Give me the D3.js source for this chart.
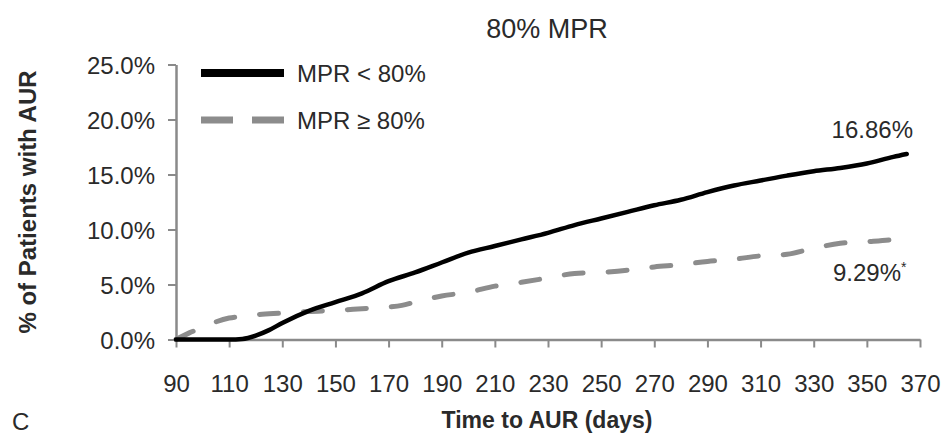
<!DOCTYPE html>
<html>
<head>
<meta charset="utf-8">
<script src="https://cdn.jsdelivr.net/npm/d3@7"></script>
<style>
  html, body { margin: 0; padding: 0; background: #fff; }
  svg { display: block; font-family: "Liberation Sans", Arial, sans-serif; }
</style>
</head>
<body>
<svg id="chart" width="942" height="438"></svg>
<script>
// Cumulative incidence of AUR by days since start, for two adherence groups
const days = [90, 100, 110, 115, 120, 125, 130, 140, 150, 160, 170, 180, 190, 200, 210, 220,
              230, 240, 250, 260, 270, 280, 290, 300, 310, 320, 330, 340, 350, 360, 365];
const mprBelow80 = [0, 0, 0, 0.05, 0.35, 0.85, 1.5, 2.6, 3.4, 4.2, 5.3, 6.1, 7.0, 7.9, 8.5, 9.1,
                    9.7, 10.4, 11.0, 11.6, 12.2, 12.7, 13.4, 14.0, 14.45, 14.9, 15.3, 15.6, 16.0, 16.6, 16.86];
const daysHigh = [90, 95, 100, 105, 110, 115, 120, 130, 140, 150, 160, 170, 175, 180, 190, 200, 210,
                  220, 230, 240, 250, 260, 270, 280, 290, 300, 310, 320, 330, 340, 350, 360, 365];
const mprAtLeast80 = [0, 0.6, 1.1, 1.6, 1.95, 2.1, 2.25, 2.4, 2.55, 2.65, 2.8, 2.95, 3.1, 3.4, 3.95, 4.3, 4.85,
                      5.2, 5.6, 6.0, 6.1, 6.3, 6.6, 6.8, 7.1, 7.3, 7.6, 7.75, 8.3, 8.75, 8.9, 9.1, 9.29];
const xTicks = [90, 110, 130, 150, 170, 190, 210, 230, 250, 270, 290, 310, 330, 350, 370];
const yTicks = [0, 5, 10, 15, 20, 25];
const seriesNames = ["MPR < 80%", "MPR \u2265 80%"];
const endLabels = ["16.86%", "9.29%"];

const svg = d3.select("#chart");
const textColor = "#2a2a2a";
const axisColor = "#8a8a8a";

const x = d3.scaleLinear().domain([90, 370]).range([176, 920]);
const y = d3.scaleLinear().domain([0, 25]).range([339.5, 64.5]);

// Title
svg.append("text")
  .attr("x", 547).attr("y", 38)
  .attr("text-anchor", "middle")
  .attr("font-size", 27).attr("fill", textColor)
  .text("80% MPR");

// Axes
const xAxis = svg.append("g")
  .attr("transform", `translate(0,${y(0)})`)
  .call(d3.axisBottom(x).tickValues(xTicks).tickFormat(d3.format("d"))
        .tickSize(8).tickSizeOuter(0).tickPadding(27));
const yAxis = svg.append("g")
  .attr("transform", `translate(${x(90)},0)`)
  .call(d3.axisLeft(y).tickValues(yTicks).tickFormat(d => d.toFixed(1) + "%")
        .tickSize(8).tickSizeOuter(0).tickPadding(13));

[xAxis, yAxis].forEach(g => {
  g.select(".domain").attr("stroke", axisColor).attr("stroke-width", 2.5);
  g.selectAll(".tick line").attr("stroke", axisColor).attr("stroke-width", 2);
  g.selectAll(".tick text").attr("fill", textColor).attr("font-size", 24)
    .attr("font-family", "\"Liberation Sans\", Arial, sans-serif");
});
yAxis.selectAll(".tick text").attr("dy", "0.36em");

// Axis titles
svg.append("text")
  .attr("transform", "translate(36,202) rotate(-90)")
  .attr("text-anchor", "middle")
  .attr("font-size", 24).attr("font-weight", "bold").attr("fill", textColor)
  .text("% of Patients with AUR");
svg.append("text")
  .attr("x", 547).attr("y", 428)
  .attr("text-anchor", "middle")
  .attr("font-size", 23).attr("font-weight", "bold").attr("fill", textColor)
  .text("Time to AUR (days)");
svg.append("text")
  .attr("x", 12).attr("y", 430)
  .attr("font-size", 24).attr("fill", textColor)
  .text("C");

// Curves
const line = d3.line().curve(d3.curveMonotoneX);
svg.append("path")
  .attr("d", line(daysHigh.map((d, i) => [x(d), y(mprAtLeast80[i])])))
  .attr("fill", "none").attr("stroke", "#8c8c8c").attr("stroke-width", 5)
  .attr("stroke-linecap", "round").attr("stroke-dasharray", "19,25");
svg.append("path")
  .attr("d", line(days.map((d, i) => [x(d), y(mprBelow80[i])])))
  .attr("fill", "none").attr("stroke", "#000").attr("stroke-width", 4.5)
  .attr("stroke-linecap", "round").attr("stroke-linejoin", "round");

// End-point labels
svg.append("text")
  .attr("x", 913).attr("y", 138)
  .attr("text-anchor", "end")
  .attr("font-size", 24).attr("fill", textColor)
  .text(endLabels[0]);
const lbl2 = svg.append("text")
  .attr("x", 833).attr("y", 281)
  .attr("font-size", 24).attr("fill", textColor)
  .text(endLabels[1]);
lbl2.append("tspan").attr("font-size", 14).attr("dy", -9).text("*");

// Legend
const legend = svg.append("g");
legend.append("line")
  .attr("x1", 201).attr("x2", 284).attr("y1", 73).attr("y2", 73)
  .attr("stroke", "#000").attr("stroke-width", 8);
legend.append("line")
  .attr("x1", 201).attr("x2", 284).attr("y1", 120).attr("y2", 120)
  .attr("stroke", "#8c8c8c").attr("stroke-width", 7)
  .attr("stroke-dasharray", "32,19");
legend.selectAll("text.lg")
  .data(seriesNames)
  .enter().append("text")
  .attr("class", "lg")
  .attr("x", 297).attr("y", (d, i) => 82 + i * 47)
  .attr("font-size", 24).attr("fill", textColor)
  .text(d => d);
</script>
</body>
</html>
